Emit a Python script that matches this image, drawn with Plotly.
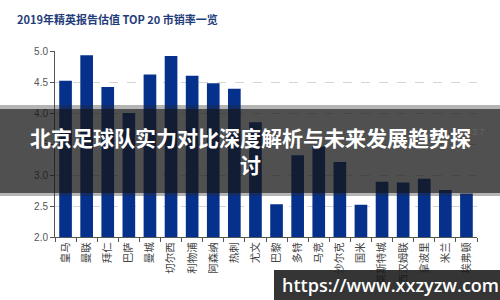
import plotly.graph_objects as go

clubs = ["皇马", "曼联", "拜仁", "巴萨", "曼城", "切尔西", "利物浦", "阿森纳", "热刺", "尤文",
         "巴黎", "多特", "马竞", "沙尔克", "国米", "莱斯特城", "西汉姆联", "拿波里", "米兰", "埃弗顿"]
ps_ratio = [4.52, 4.93, 4.42, 4.00, 4.62, 4.92, 4.60, 4.48, 4.39, 3.85,
            2.53, 3.32, 3.46, 3.21, 2.52, 2.89, 2.88, 2.94, 2.76, 2.70]
y_ticks = [2.0, 2.5, 3.0, 3.5, 4.0, 4.5, 5.0]
avg_label = "3.7"
title_text = "2019年精英报告估值 TOP 20 市销率一览"
overlay_title = "北京足球队实力对比深度解析与未来发展趋势探<br>讨"
watermark = "https://www.xxzyzw.com"

FONT = "Noto Sans CJK SC"

fig = go.Figure()
fig.add_trace(go.Bar(
    x=clubs, y=ps_ratio,
    marker=dict(color="#05308c", line=dict(width=0)),
    width=0.6,
))

fig.update_layout(
    width=500, height=300,
    margin=dict(l=55, r=23, t=51, b=63),
    paper_bgcolor="white", plot_bgcolor="white",
    showlegend=False,
    font=dict(family=FONT, color="#444"),
    bargap=0.4,
    xaxis=dict(
        type="category",
        showline=True, linecolor="#555", linewidth=1,
        ticks="outside", tickson="boundaries", ticklen=4, tickcolor="#555",
        tickangle=-90,
        tickfont=dict(size=10.5, color="#444", family=FONT),
        showgrid=False,
    ),
    yaxis=dict(
        range=[2, 5],
        tickvals=y_ticks,
        ticktext=[f"{v:.1f}" for v in y_ticks],
        showline=True, linecolor="#555", linewidth=1,
        ticks="outside", ticklen=4, tickcolor="#555",
        tickfont=dict(size=10, color="#555", family="Liberation Sans"),
        showgrid=True, gridcolor="#d4d4d4", griddash="dash", gridwidth=1,
        zeroline=False,
    ),
)

fig.add_annotation(
    text=title_text, xref="paper", yref="paper",
    x=-55/422 + 15/422, y=1 + (51 - 19)/186, xanchor="left", yanchor="middle",
    showarrow=False,
    font=dict(size=11, color="#1f3d7a", family=FONT, weight="bold"),
)

fig.add_annotation(
    text=avg_label, xref="paper", yref="y",
    x=(470 - 55)/422, y=3.7, xanchor="left", yanchor="middle",
    showarrow=False, font=dict(size=9, color="#666", family="Liberation Sans"),
)

# overlay band
def py(pix):
    return 1 - (pix - 51) / 186

fig.add_shape(type="rect", xref="paper", yref="paper",
              x0=-55/422, x1=1 + 23/422, y0=py(196), y1=py(105),
              fillcolor="rgba(40,40,40,0.35)", line=dict(width=0), layer="above")
fig.add_shape(type="rect", xref="paper", yref="paper",
              x0=-55/422, x1=1 + 23/422, y0=py(193), y1=py(109),
              fillcolor="rgba(20,20,20,0.62)", line=dict(width=0), layer="above")
fig.add_annotation(
    text=overlay_title, xref="paper", yref="paper",
    x=(250 - 55)/422, y=py(150), xanchor="center", yanchor="middle",
    showarrow=False, align="center",
    font=dict(size=21, color="white", family=FONT, weight="bold"),
)

# watermark
fig.add_shape(type="rect", xref="paper", yref="paper",
              x0=(274 - 55)/422, x1=1 + 23/422, y0=py(300), y1=py(270),
              fillcolor="rgba(25,25,25,0.88)", line=dict(width=0), layer="above")
fig.add_annotation(
    text=watermark, xref="paper", yref="paper",
    x=(390 - 55)/422, y=py(285), xanchor="center", yanchor="middle",
    showarrow=False,
    font=dict(size=18, color="white", family="Open Sans", weight=600),
)

fig.write_html("out.html")
